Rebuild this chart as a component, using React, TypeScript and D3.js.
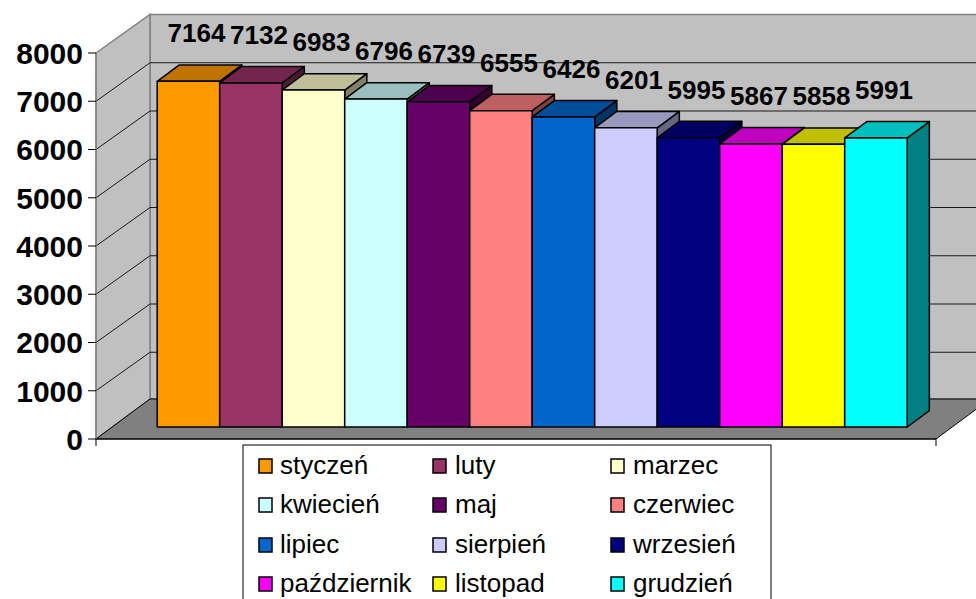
import React from "react";
import * as d3 from "d3";

const months = ["styczeń","luty","marzec","kwiecień","maj","czerwiec","lipiec","sierpień","wrzesień","październik","listopad","grudzień"];
const values = [7164,7132,6983,6796,6739,6555,6426,6201,5995,5867,5858,5991];
const colors = ["#FF9900","#993366","#FFFFCC","#CCFFFF","#660066","#FF8080","#0066CC","#CCCCFF","#000080","#FF00FF","#FFFF00","#00FFFF"];
const yTicks = [0,1000,2000,3000,4000,5000,6000,7000,8000];

const W = 976, H = 599;
const FONT = "'Liberation Sans', Arial, Helvetica, sans-serif";

function shade(c: string, k: number) {
  const r = d3.rgb(c);
  return d3.rgb(r.r * k, r.g * k, r.b * k).formatHex();
}

export default function App() {
  // geometry
  const axX = 96, floorY = 439, rightX = 936;
  const D = { x: 54, y: -40 };
  const fFront = 0.3, fDepth = 0.41;
  const y = d3.scaleLinear().domain([0, 8000]).range([floorY, 53]);
  const yBack = (v: number) => y(v) + D.y * (38.5 / 40) ;
  const off = { x: D.x * fFront, y: D.y * fFront };
  const dep = { x: D.x * fDepth, y: D.y * fDepth };
  const x = d3.scaleBand<string>().domain(months).range([141, 891]).padding(0);

  const pts = (a: number[][]) => a.map(p => p.join(",")).join(" ");

  const backX0 = axX + D.x, backX1 = rightX + D.x;
  const backTop = yBack(8000), backBot = floorY + D.y;

  const legendCols = [259, 433, 611];
  const legendText = [280, 455, 633];
  const legendRows = [474, 513, 553, 592];

  return (
    <svg width={W} height={H} style={{ position: "absolute", left: 0, top: 0, background: "#fff" }} fontFamily={FONT}>
      <defs>
        <clipPath id="clip"><rect x={0} y={0} width={W} height={H} /></clipPath>
      </defs>
      <g clipPath="url(#clip)">
        {/* back wall */}
        <rect x={backX0} y={backTop} width={backX1 - backX0} height={backBot - backTop} fill="#C0C0C0" stroke="#808080" strokeWidth={1.5} />
        {/* side wall */}
        <polygon points={pts([[axX, y(8000)], [backX0, backTop], [backX0, backBot], [axX, floorY]])} fill="#C0C0C0" stroke="#808080" strokeWidth={1.5} />
        {/* floor */}
        <polygon points={pts([[axX, floorY], [rightX, floorY], [backX1, backBot], [backX0, backBot]])} fill="#808080" stroke="#000" strokeWidth={1} />
        {/* gridlines */}
        {yTicks.filter(t => t > 0 && t < 8000).map(t => (
          <g key={t}>
            <line x1={backX0} x2={backX1} y1={yBack(t)} y2={yBack(t)} stroke="#1a1a1a" strokeWidth={1} />
            <line x1={axX} x2={backX0} y1={y(t)} y2={yBack(t)} stroke="#1a1a1a" strokeWidth={1} />
          </g>
        ))}
        {/* axes */}
        <line x1={axX} x2={rightX} y1={floorY} y2={floorY} stroke="#000" strokeWidth={1.2} />
        <line x1={axX} x2={axX} y1={y(8000)} y2={floorY} stroke="#808080" strokeWidth={1.2} />
        {yTicks.map(t => (
          <line key={t} x1={axX - 8} x2={axX} y1={y(t)} y2={y(t)} stroke="#000" strokeWidth={1} />
        ))}
        <line x1={axX} x2={axX} y1={floorY} y2={floorY + 7} stroke="#000" strokeWidth={1} />
        <line x1={rightX} x2={rightX} y1={floorY} y2={floorY + 7} stroke="#000" strokeWidth={1} />

        {/* bars */}
        {months.map((m, i) => {
          const x0 = (x(m) as number) + off.x;
          const x1 = x0 + x.bandwidth();
          const yb = floorY + off.y;
          const yt = y(values[i]) + off.y;
          const c = colors[i];
          return (
            <g key={m} stroke="#000" strokeWidth={1.5} strokeLinejoin="round">
              <polygon points={pts([[x1, yt], [x1 + dep.x, yt + dep.y], [x1 + dep.x, yb + dep.y], [x1, yb]])} fill={shade(c, 0.5)} />
              <polygon points={pts([[x0, yt], [x1, yt], [x1 + dep.x, yt + dep.y], [x0 + dep.x, yt + dep.y]])} fill={shade(c, 0.75)} />
              <rect x={x0} y={yt} width={x1 - x0} height={yb - yt} fill={c} />
            </g>
          );
        })}
        {/* data labels */}
        {months.map((m, i) => {
          const cx = (x(m) as number) + off.x + x.bandwidth() / 2 + 8;
          const yt = y(values[i]) + off.y;
          return (
            <text key={m} x={cx} y={yt - 39} textAnchor="middle" fontSize={26} fontWeight="bold" fill="#000">{values[i]}</text>
          );
        })}
      </g>
      {/* y tick labels */}
      {yTicks.map(t => (
        <text key={t} x={83} y={y(t)} dy="0.36em" textAnchor="end" fontSize={30} fontWeight="bold" fill="#000">{t}</text>
      ))}
      {/* legend */}
      <rect x={243} y={445} width={528} height={170} fill="#fff" stroke="#000" strokeWidth={1} />
      {months.map((m, i) => {
        const col = i % 3, row = Math.floor(i / 3);
        const by = legendRows[row];
        return (
          <g key={m}>
            <rect x={legendCols[col]} y={by - 15} width={13} height={14} fill={colors[i]} stroke="#000" strokeWidth={1.5} />
            <text x={legendText[col]} y={by} fontSize={26} fill="#000">{m}</text>
          </g>
        );
      })}
    </svg>
  );
}
